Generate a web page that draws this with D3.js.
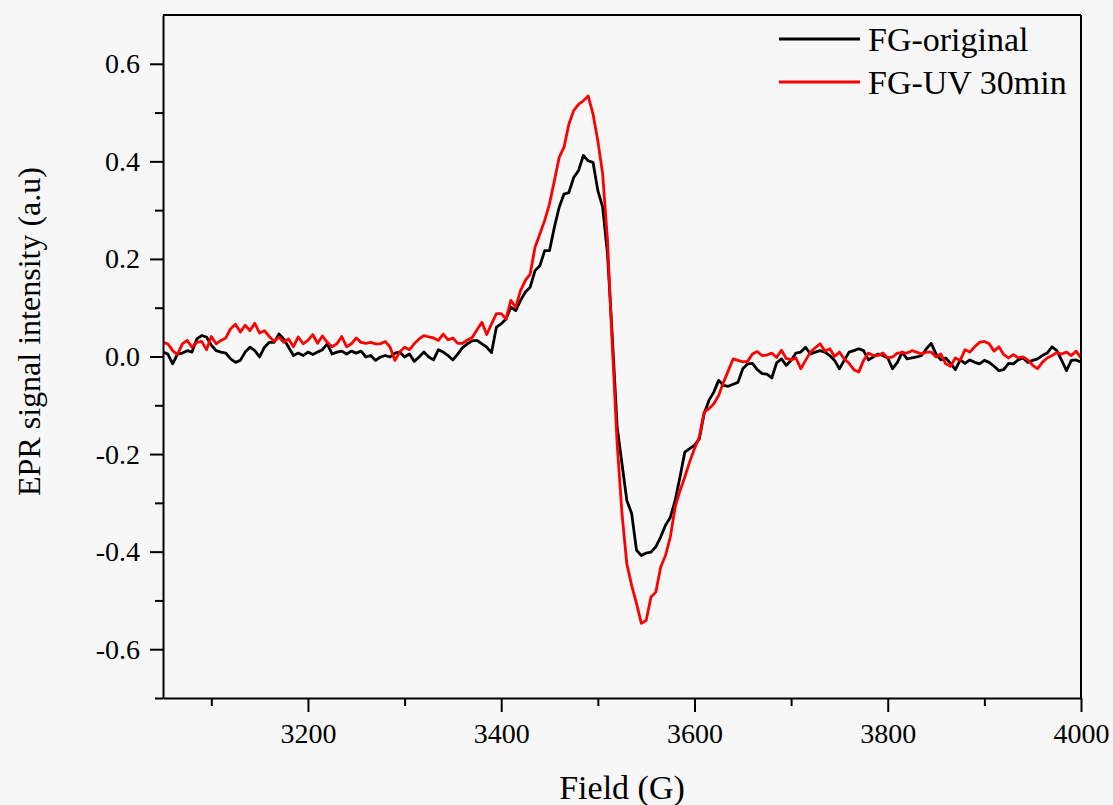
<!DOCTYPE html>
<html>
<head>
<meta charset="utf-8">
<script src="https://cdn.jsdelivr.net/npm/d3@7"></script>
<style>
  body { margin: 0; background: #f7f7f7; }
  svg { display: block; }
  .axis path, .axis line { stroke: #000; stroke-width: 2; }
  .label { font-family: "Liberation Serif", "Times New Roman", serif; fill: #000; }
</style>
</head>
<body>
<svg id="chart"></svg>
<script>
// EPR spectra, sampled every 5 G from 3050 G to 4000 G
const fieldStart = 3050, fieldStep = 5;

const originalSignal = [
  0.009, 0.005, -0.015, 0.005, 0.007, 0.012, 0.009, 0.036, 0.043, 0.040,
  0.023, 0.012, 0.009, 0.007, -0.005, -0.012, -0.008, 0.009, 0.019, 0.012,
  -0.001, 0.019, 0.029, 0.029, 0.046, 0.036, 0.019, 0.002, 0.007, 0.002,
  0.009, 0.004, 0.009, 0.014, 0.026, 0.005, 0.009, 0.011, 0.005, 0.011,
  0.007, 0.011, -0.001, 0.002, -0.008, -0.001, 0.002, -0.001, 0.007, 0.009,
  -0.001, 0.005, -0.010, -0.001, 0.009, -0.001, -0.007, 0.014, 0.009, 0.002,
  -0.007, 0.005, 0.018, 0.026, 0.032, 0.033, 0.026, 0.019, 0.008, 0.060,
  0.067, 0.077, 0.101, 0.094, 0.115, 0.132, 0.142, 0.176, 0.186, 0.217,
  0.217, 0.265, 0.306, 0.333, 0.336, 0.367, 0.381, 0.412, 0.401, 0.398,
  0.340, 0.306, 0.210, 0.040, -0.145, -0.220, -0.295, -0.322, -0.397, -0.408,
  -0.403, -0.401, -0.390, -0.370, -0.346, -0.330, -0.295, -0.247, -0.196, -0.189,
  -0.182, -0.169, -0.117, -0.090, -0.073, -0.049, -0.059, -0.061, -0.057, -0.053,
  -0.025, -0.015, -0.014, -0.027, -0.035, -0.036, -0.044, -0.013, -0.005, -0.018,
  -0.008, 0.007, 0.009, 0.019, 0.005, 0.009, 0.012, 0.009, 0.002, -0.008,
  -0.025, -0.008, 0.009, 0.012, 0.016, 0.012, -0.007, -0.001, 0.005, 0.002,
  -0.003, -0.025, -0.012, 0.009, -0.005, -0.003, -0.001, 0.002, 0.016, 0.027,
  0.005, -0.007, -0.003, -0.014, -0.027, -0.007, -0.014, -0.007, -0.012, -0.015,
  -0.008, -0.012, -0.020, -0.029, -0.027, -0.014, -0.015, -0.007, -0.003, -0.012,
  -0.008, -0.005, 0.002, 0.007, 0.020, 0.012, -0.008, -0.029, -0.008, -0.007,
  -0.012
];

const uvSignal = [
  0.029, 0.026, 0.012, 0.004, 0.026, 0.033, 0.019, 0.029, 0.031, 0.014,
  0.041, 0.026, 0.033, 0.038, 0.057, 0.066, 0.050, 0.064, 0.053, 0.068,
  0.048, 0.053, 0.041, 0.031, 0.040, 0.029, 0.036, 0.020, 0.040, 0.026,
  0.033, 0.045, 0.027, 0.042, 0.029, 0.020, 0.026, 0.041, 0.020, 0.026,
  0.038, 0.029, 0.027, 0.029, 0.026, 0.026, 0.031, 0.019, -0.008, 0.009,
  0.019, 0.014, 0.026, 0.036, 0.043, 0.040, 0.038, 0.033, 0.046, 0.034,
  0.038, 0.027, 0.027, 0.034, 0.039, 0.055, 0.070, 0.045, 0.067, 0.088,
  0.088, 0.077, 0.115, 0.101, 0.135, 0.156, 0.169, 0.224, 0.251, 0.279,
  0.313, 0.360, 0.408, 0.429, 0.476, 0.504, 0.517, 0.524, 0.534, 0.497,
  0.442, 0.374, 0.238, 0.020, -0.179, -0.322, -0.425, -0.469, -0.506, -0.547,
  -0.541, -0.493, -0.483, -0.432, -0.408, -0.370, -0.309, -0.275, -0.247, -0.216,
  -0.189, -0.165, -0.114, -0.107, -0.097, -0.080, -0.053, -0.029, -0.005, -0.008,
  -0.011, -0.010, 0.005, 0.010, 0.002, 0.003, 0.007, -0.002, 0.013, -0.004,
  -0.007, -0.003, -0.025, -0.008, 0.009, 0.018, 0.026, 0.011, 0.016, 0.000,
  0.009, -0.005, -0.014, -0.027, -0.032, -0.008, 0.007, 0.002, 0.002, 0.007,
  -0.003, -0.001, 0.007, 0.008, 0.007, 0.012, 0.009, 0.005, 0.009, 0.009,
  -0.001, 0.005, -0.015, -0.020, -0.003, -0.008, 0.014, 0.009, 0.020, 0.029,
  0.031, 0.026, 0.011, 0.020, 0.004, -0.003, 0.004, -0.003, -0.001, -0.007,
  -0.018, -0.025, -0.012, -0.003, 0.002, 0.008, 0.005, 0.009, 0.002, 0.011,
  -0.003
];

const seriesNames = ["FG-original", "FG-UV 30min"];
const seriesColors = ["#000000", "#ff0000"];

const xTicks = [3200, 3400, 3600, 3800, 4000];
const xMinorTicks = [3100, 3300, 3500, 3700, 3900];
const yTicks = [-0.6, -0.4, -0.2, 0, 0.2, 0.4, 0.6];
const yMinorTicks = [-0.7, -0.5, -0.3, -0.1, 0.1, 0.3, 0.5];

const width = 1113, height = 805;
const plotLeft = 163, plotRight = 1081, plotTop = 15, plotBottom = 698;
const serif = '"Liberation Serif", "Times New Roman", serif';

const svg = d3.select("#chart").attr("width", width).attr("height", height);

const x = d3.scaleLinear().domain([3050, 4000]).range([plotLeft, plotRight]);
const y = d3.scaleLinear().domain([-0.7, 0.7]).range([plotBottom, plotTop]);

const series = [originalSignal, uvSignal].map((vals, k) => ({
  name: seriesNames[k],
  color: seriesColors[k],
  points: vals.map((v, i) => [fieldStart + i * fieldStep, v])
}));

svg.append("clipPath").attr("id", "plotClip")
  .append("rect")
  .attr("x", plotLeft).attr("y", plotTop)
  .attr("width", plotRight - plotLeft).attr("height", plotBottom - plotTop);

const line = d3.line().x(d => x(d[0])).y(d => y(d[1]));

svg.append("g").attr("clip-path", "url(#plotClip)")
  .selectAll("path")
  .data(series)
  .join("path")
  .attr("d", d => line(d.points))
  .attr("fill", "none")
  .attr("stroke", d => d.color)
  .attr("stroke-width", 2.8)
  .attr("stroke-linejoin", "round");

// axes: ticks only on bottom and left
const fmtY = d => d.toFixed(1);
const styleAxis = g => g
  .attr("font-family", serif)
  .attr("font-size", 28)
  .call(g => g.selectAll("text").attr("fill", "#000"));

svg.append("g").attr("class", "axis")
  .attr("transform", `translate(0,${plotBottom})`)
  .call(d3.axisBottom(x).tickValues(xTicks).tickSize(14).tickSizeOuter(0).tickPadding(11).tickFormat(d3.format("d")))
  .call(styleAxis);

svg.append("g").attr("class", "axis")
  .attr("transform", `translate(0,${plotBottom})`)
  .call(d3.axisBottom(x).tickValues(xMinorTicks).tickSize(8).tickFormat(""))
  .call(g => g.select(".domain").remove());

svg.append("g").attr("class", "axis")
  .attr("transform", `translate(${plotLeft},0)`)
  .call(d3.axisLeft(y).tickValues(yTicks).tickSize(13).tickSizeOuter(0).tickPadding(10).tickFormat(fmtY))
  .call(styleAxis);

svg.append("g").attr("class", "axis")
  .attr("transform", `translate(${plotLeft},0)`)
  .call(d3.axisLeft(y).tickValues(yMinorTicks).tickSize(8).tickFormat(""))
  .call(g => g.select(".domain").remove());

// frame top and right
svg.append("line")
  .attr("x1", plotLeft).attr("x2", plotRight).attr("y1", plotTop).attr("y2", plotTop)
  .attr("stroke", "#000").attr("stroke-width", 2);
svg.append("line")
  .attr("x1", plotRight).attr("x2", plotRight).attr("y1", plotTop).attr("y2", plotBottom)
  .attr("stroke", "#000").attr("stroke-width", 2);

// axis titles
svg.append("text").attr("class", "label")
  .attr("x", (plotLeft + plotRight) / 2).attr("y", 799)
  .attr("text-anchor", "middle")
  .style("font-size", "34px")
  .text("Field (G)");

svg.append("text").attr("class", "label")
  .attr("transform", `translate(40,${(plotTop + plotBottom) / 2 - 25}) rotate(-90)`)
  .attr("text-anchor", "middle")
  .style("font-size", "32px")
  .text("EPR signal intensity (a.u)");

// legend
const legend = svg.append("g").attr("transform", "translate(779,39)");
const item = legend.selectAll("g")
  .data(series)
  .join("g")
  .attr("transform", (d, i) => `translate(0,${i * 43})`);
item.append("line")
  .attr("x1", 0).attr("x2", 81)
  .attr("stroke", d => d.color)
  .attr("stroke-width", 3);
item.append("text").attr("class", "label")
  .attr("x", 89).attr("y", 12)
  .style("font-size", "34px")
  .text(d => d.name);
</script>
</body>
</html>
